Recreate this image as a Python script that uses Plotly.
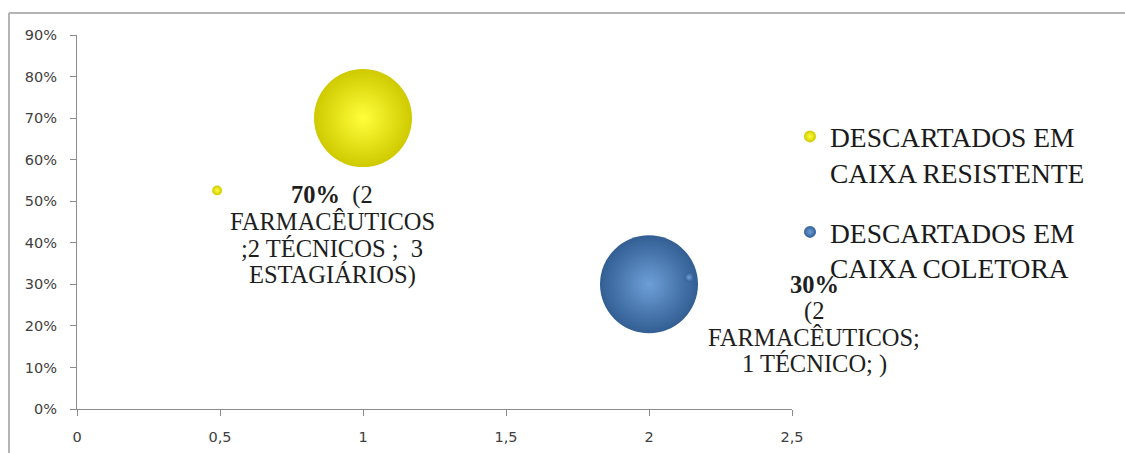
import plotly.graph_objects as go

# Bubble series: x position, share of answers, bubble size
series_names = ["DESCARTADOS EM<br>CAIXA RESISTENTE", "DESCARTADOS EM<br>CAIXA COLETORA"]
resist_x = [1.0, 0.49]
resist_y = [0.70, 0.526]
resist_size = [100, 1]
coletora_x = [2.0, 2.14]
coletora_y = [0.30, 0.317]
coletora_size = [100, 1]

# Data label texts (the percentage comes from the bubble value)
resist_detail = ["FARMACÊUTICOS", ";2 TÉCNICOS ;\u00a0 3", "ESTAGIÁRIOS)"]
coletora_detail = ["(2", "FARMACÊUTICOS;", "1 TÉCNICO; )"]

x_ticks = [0, 0.5, 1, 1.5, 2, 2.5]
y_ticks = [0, 0.1, 0.2, 0.3, 0.4, 0.5, 0.6, 0.7, 0.8, 0.9]

W, H = 1125, 453
L, R, T, B = 77, 792, 35, 409  # plot area in pixels


def px_x(p):
    return (p - L) / (R - L)


def px_y(p):
    return (B - p) / (B - T)


serif = "Liberation Serif"
sans = "DejaVu Sans"
size_ref = 2.0 * max(resist_size + coletora_size) / (98 ** 2)

fig = go.Figure()
fig.add_trace(go.Scatter(
    x=resist_x, y=resist_y, mode="markers", name=series_names[0],
    legendgroup="a",
    marker=dict(size=resist_size, sizemode="area", sizeref=size_ref,
                color="#cfca00", opacity=1, line=dict(width=0),
                gradient=dict(type="radial", color="#ffff3a")),
    cliponaxis=False,
))
fig.add_trace(go.Scatter(
    x=coletora_x, y=coletora_y, mode="markers", name=series_names[1],
    legendgroup="b",
    marker=dict(size=coletora_size, sizemode="area", sizeref=size_ref,
                color="#325e93", opacity=1, line=dict(width=0),
                gradient=dict(type="radial", color="#6d9fd7")),
    cliponaxis=False,
))

# Data labels: one line per annotation, stacked below/right of each bubble
label_font = dict(family=serif, size=24.5, color="#1e1e1e")
line_step = 26.5


def add_label(x, y, lines, dx, dy_top):
    for i, line in enumerate(lines):
        fig.add_annotation(
            x=x, y=y, xref="x", yref="y", xanchor="center", yanchor="middle",
            showarrow=False, font=label_font, text=line,
            xshift=dx, yshift=-(dy_top + i * line_step),
        )


add_label(resist_x[0], resist_y[0],
          [f"<b>{resist_y[0]:.0%}</b>\u00a0 (2"] + resist_detail, -31, 77)
add_label(coletora_x[0], coletora_y[0],
          [f"<b>{coletora_y[0]:.0%}</b>"] + coletora_detail, 165, 0)

# Outer chart border (top and left edges)
border = dict(color="#b4b4b4", width=2)
fig.add_shape(type="line", xref="paper", yref="paper",
              x0=px_x(9), x1=px_x(W), y0=px_y(13), y1=px_y(13), line=border)
fig.add_shape(type="line", xref="paper", yref="paper",
              x0=px_x(9), x1=px_x(9), y0=px_y(13), y1=px_y(H), line=border)

axis_common = dict(
    showgrid=False, zeroline=False, showline=True, linecolor="#8c8c8c",
    linewidth=1, ticks="outside", tickcolor="#8c8c8c", ticklen=6,
    tickfont=dict(family=sans, size=14.5, color="#404040"),
)
fig.update_xaxes(range=[0, 2.5], tickvals=x_ticks, ticklabelstandoff=9,
                 **axis_common)
fig.update_yaxes(range=[0, 0.9], tickvals=y_ticks, tickformat=".0%",
                 ticklabelstandoff=10, **axis_common)

fig.update_layout(
    width=W, height=H,
    margin=dict(l=L, r=W - R, t=T, b=H - B, autoexpand=False),
    paper_bgcolor="white", plot_bgcolor="white",
    separators=",.",
    showlegend=True,
    legend=dict(
        x=px_x(790), y=px_y(112), xanchor="left", yanchor="top",
        font=dict(family=serif, size=27.5, color="#1a1a1a"),
        itemsizing="constant", valign="top", tracegroupgap=21,
        bgcolor="rgba(0,0,0,0)",
    ),
)

fig.write_html("out.html")
